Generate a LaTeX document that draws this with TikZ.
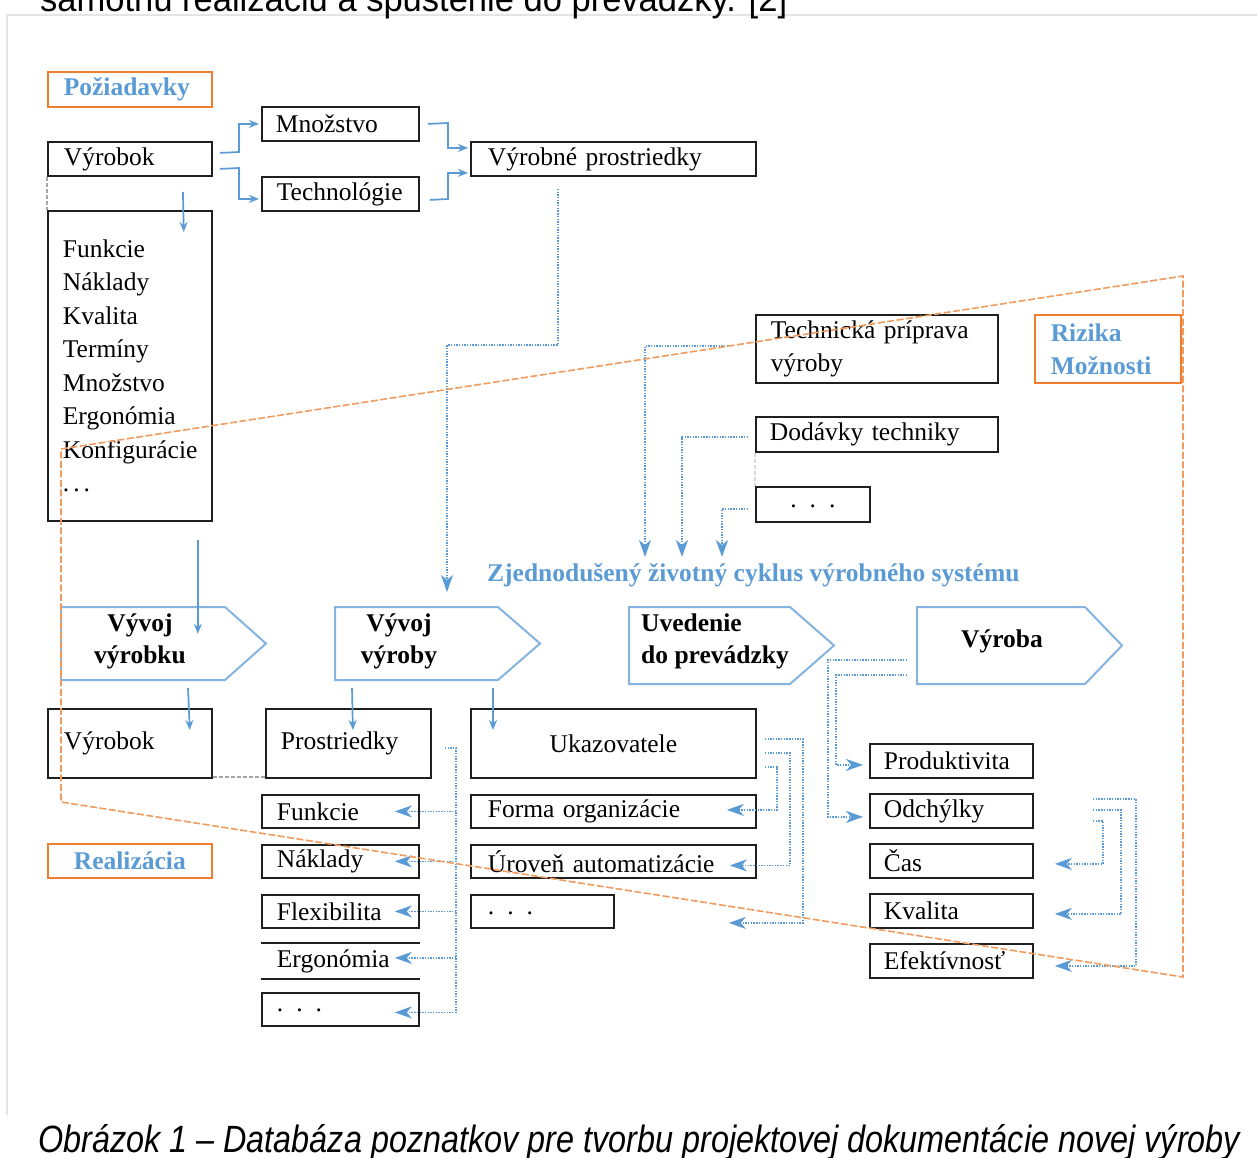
\documentclass[tikz,border=0pt]{standalone}
\usepackage{fontspec}
\usepackage{graphicx}
\setmainfont{Liberation Serif}
\newfontfamily\arialf{Liberation Sans}
\usetikzlibrary{arrows.meta}
\definecolor{ablue}{HTML}{5B9BD5}
\definecolor{aorange}{HTML}{ED7D31}
\definecolor{lorange}{HTML}{F29B5E}
\definecolor{pblue}{HTML}{85B4E0}
\definecolor{fgray}{HTML}{E4E4E4}
\newcommand{\tdots}{.\hspace{13pt}.\hspace{13pt}.}
\begin{document}
\begin{tikzpicture}[x=1pt,y=1pt,
  bx/.style={draw=black!88, line width=1.8pt, rectangle, anchor=north west, inner ysep=0pt, align=left, font=\fontsize{25.5}{33.5}\selectfont},
  obx/.style={bx, draw=aorange, line width=1.6pt, text=ablue, font=\fontsize{25.5}{33}\selectfont\bfseries},
  arr/.style={draw=ablue, line width=1.7pt, -{Stealth[length=10pt,width=8pt]}},
  dotl/.style={draw=ablue, line width=1.8pt, dash pattern=on 1.4pt off 1.3pt},
  dotarr/.style={dotl, -{Stealth[length=17pt,width=12pt,inset=5pt]}},
  pent/.style={draw=pblue, line width=2pt, line join=miter},
  ptxt/.style={font=\fontsize{25.5}{32}\selectfont\bfseries, align=center, inner sep=0pt},
  gdash/.style={draw=gray!70, line width=1.5pt, dash pattern=on 4pt off 2pt},
  odash/.style={draw=lorange, line width=1.6pt, dash pattern=on 7pt off 2.5pt}]
\useasboundingbox (0,0) rectangle (1257,-1157);
\clip (0,0) rectangle (1257,-1157);
\fill[white] (0,0) rectangle (1257,-1157);
\draw[fgray, line width=1.2pt] (7,-1115) -- (7,-15) -- (1260,-15);

% page text (cut by the picture edges, as in the reference)
\node[anchor=base west, inner sep=0pt, font=\arialf\fontsize{36}{40}\selectfont] (toptxt) at (40,-11) {\resizebox{747pt}{\height}{samotnú realizáciu a spustenie do prevádzky. [2]}};
\node[anchor=base west, inner sep=0pt, font=\arialf\itshape\fontsize{38}{40}\selectfont] (cap) at (38,-1152) {\resizebox{1202pt}{\height}{Obrázok 1 – Databáza poznatkov pre tvorbu projektovej dokumentácie novej výroby}};

% top part
\node[obx, minimum width=164pt, minimum height=35pt, text width=132pt, inner xsep=16pt] (poz) at (47,-71) {Požiadavky};
\node[bx, minimum width=164pt, minimum height=34pt, text width=132pt, inner xsep=16pt] (vyr1) at (47,-141) {Výrobok};
\node[bx, minimum width=157pt, minimum height=34pt, text width=129pt, inner xsep=14pt] (mnoz) at (261,-106) {Množstvo};
\node[bx, minimum width=157pt, minimum height=34pt, text width=127pt, inner xsep=15pt] (tech) at (261,-176) {Technológie};
\node[bx, minimum width=285pt, minimum height=34pt, text width=251pt, inner xsep=17pt] (vp) at (470,-141) {Výrobné prostriedky};
\node[bx, minimum width=164pt, minimum height=310pt, text width=134pt, inner xsep=15pt] (list) at (47,-210) {Funkcie\\Náklady\\Kvalita\\Termíny\\Množstvo\\Ergonómia\\Konfigurácie\\.\hspace{4pt}.\hspace{4pt}.};

\node[bx, minimum width=242pt, minimum height=68pt, text width=212pt, inner xsep=15pt, font=\fontsize{25.5}{33}\selectfont] (tpv) at (755,-314) {Technická príprava\\výroby};
\node[obx, minimum width=146pt, minimum height=68pt, text width=114pt, inner xsep=16pt] (riz) at (1034,-314) {Rizika\\Možnosti};
\node[bx, minimum width=242pt, minimum height=35pt, text width=214pt, inner xsep=14pt] (dod) at (755,-416) {Dodávky techniky};
\node[bx, minimum width=114pt, minimum height=35pt, text width=114pt, inner xsep=0pt, align=center] (dt1) at (755,-486) {\raisebox{-6pt}{\tdots}};

\node[anchor=west, inner sep=0pt, text=ablue, font=\fontsize{25.5}{32}\selectfont\bfseries] (cyc) at (487,-575) {Zjednodušený životný cyklus výrobného systému};

% life-cycle pentagons
\draw[pent] (61,-607) -- (225,-607) -- (266,-643.5) -- (225,-680) -- (61,-680) -- cycle;
\draw[pent] (335,-607) -- (498,-607) -- (540,-643.5) -- (498,-680) -- (335,-680) -- cycle;
\draw[pent] (629,-607) -- (790,-607) -- (834,-645.5) -- (790,-684) -- (629,-684) -- cycle;
\draw[pent] (917,-607) -- (1085,-607) -- (1122,-645.5) -- (1085,-684) -- (917,-684) -- cycle;
\node[ptxt] (p1) at (140,-641) {Vývoj\\výrobku};
\node[ptxt] (p2) at (399,-641) {Vývoj\\výroby};
\node[ptxt, align=left, anchor=west] (p3) at (641,-641) {Uvedenie\\do prevádzky};
\node[ptxt] (p4) at (1002,-641) {Výroba};

% bottom part
\node[bx, minimum width=164pt, minimum height=69pt, text width=132pt, inner xsep=16pt] (vyr2) at (47,-708) {Výrobok};
\node[bx, minimum width=165pt, minimum height=69pt, text width=135pt, inner xsep=15pt] (pros) at (265,-708) {Prostriedky};
\node[bx, minimum width=285pt, minimum height=69pt, text width=285pt, inner xsep=0pt, align=center] (uka) at (470,-708) {Ukazovatele};
\node[obx, minimum width=164pt, minimum height=34pt, text width=164pt, inner xsep=0pt, align=center] (real) at (47,-843) {Realizácia};

\node[bx, minimum width=157pt, minimum height=33pt, text width=127pt, inner xsep=15pt] (f) at (261,-794) {Funkcie};
\node[bx, minimum width=157pt, minimum height=33pt, text width=127pt, inner xsep=15pt] (n) at (261,-844) {Náklady};
\node[bx, minimum width=157pt, minimum height=33pt, text width=127pt, inner xsep=15pt] (fl) at (261,-894) {Flexibilita};
\node[bx, draw=none, minimum width=157pt, minimum height=34pt, text width=127pt, inner xsep=15pt] (erg) at (261,-943) {Ergonómia};
\draw[draw=black!88, line width=1.8pt] (erg.north west) -- (erg.north east) (erg.south west) -- (erg.south east);
\node[bx, minimum width=157pt, minimum height=33pt, text width=127pt, inner xsep=15pt] (d2) at (261,-992) {\raisebox{-5pt}{\tdots}};

\node[bx, minimum width=285pt, minimum height=33pt, text width=251pt, inner xsep=17pt] (forma) at (470,-794) {Forma organizácie};
\node[bx, minimum width=285pt, minimum height=33pt, text width=251pt, inner xsep=17pt] (urov) at (470,-844) {Úroveň automatizácie};
\node[bx, minimum width=143pt, minimum height=33pt, text width=109pt, inner xsep=17pt] (d3) at (470,-894) {\raisebox{-7pt}{\tdots}};

\node[bx, minimum width=163pt, minimum height=34pt, text width=135pt, inner xsep=14pt] (prod) at (869,-743) {Produktivita};
\node[bx, minimum width=163pt, minimum height=34pt, text width=135pt, inner xsep=14pt] (odch) at (869,-793) {Odchýlky};
\node[bx, minimum width=163pt, minimum height=34pt, text width=135pt, inner xsep=14pt] (cas) at (869,-843) {Čas};
\node[bx, minimum width=163pt, minimum height=34pt, text width=135pt, inner xsep=14pt] (kval) at (869,-893) {Kvalita};
\node[bx, minimum width=163pt, minimum height=34pt, text width=135pt, inner xsep=14pt] (efek) at (869,-943) {Efektívnosť};

% gray dashed joins
\draw[gdash] (vyr1.south west) -- (list.north west);
\draw[gdash] ([yshift=2pt]vyr2.south east) -- ([yshift=2pt]pros.south west);
\draw[gdash, draw=gray!30] (dod.south west) -- (dt1.north west);

% solid blue arrows
\draw[arr] ([xshift=7pt,yshift=6pt]vyr1.east) -- (239,-152) |- ([xshift=-2pt]mnoz.west);
\draw[arr] ([xshift=7pt,yshift=-10pt]vyr1.east) -- (239,-168) |- ([xshift=-2pt,yshift=-5pt]tech.west);
\draw[arr] ([xshift=8pt]mnoz.east) -- (448,-123) |- ([xshift=-2pt,yshift=11pt]vp.west);
\draw[arr] ([xshift=10pt,yshift=-6pt]tech.east) -- (448,-199) |- ([xshift=-2pt,yshift=-14pt]vp.west);
\draw[arr] ([xshift=53pt,yshift=-15pt]vyr1.south) -- ([xshift=-29pt,yshift=-22pt]list.north east);
\draw[arr] ([xshift=-15pt,yshift=-18pt]list.south east) -- ++(0,-94pt);
\draw[arr] (188,-688) -- ([xshift=-23pt,yshift=-22pt]vyr2.north east);
\draw[arr] (352,-688) -- ([xshift=4.5pt,yshift=-22pt]pros.north);
\draw[arr] (493,-688) -- ([xshift=23pt,yshift=-22pt]uka.north west);

% dotted blue arrows, upper part
\draw[dotarr] ([xshift=-55.5pt,yshift=-12pt]vp.south) |- (447,-345) -- (447,-592);
\draw[dotarr] ([xshift=-27pt,yshift=3pt]tpv.west) -| ([xshift=158pt,yshift=18pt]cyc.west);
\draw[dotarr] ([xshift=-7pt,yshift=-2.5pt]dod.west) -| ([xshift=195pt,yshift=18pt]cyc.west);
\draw[dotarr] ([xshift=-7pt,yshift=-4.5pt]dt1.west) -| ([xshift=235pt,yshift=18pt]cyc.west);

% dotted blue arrows, Prostriedky
\coordinate (pv) at (456,-747);
\draw[dotl] ([xshift=13pt,yshift=-4.5pt]pros.east) -| ([yshift=-3pt]d2.east -| pv);
\draw[dotarr] (f.east -| pv) -- ([xshift=-25pt]f.east);
\draw[dotarr] (n.east -| pv) -- ([xshift=-25pt]n.east);
\draw[dotarr] (fl.east -| pv) -- ([xshift=-25pt]fl.east);
\draw[dotarr] ([yshift=3pt]erg.east -| pv) -- ([xshift=-25pt,yshift=3pt]erg.east);
\draw[dotarr] ([yshift=-3pt]d2.east -| pv) -- ([xshift=-25pt,yshift=-3pt]d2.east);

% dotted blue arrows, Ukazovatele
\draw[dotarr] ([xshift=8pt,yshift=4.5pt]uka.east) -- ++(38pt,0) |- ([xshift=114pt,yshift=-11.5pt]d3.east);
\draw[dotarr] ([xshift=8pt,yshift=-9.5pt]uka.east) -- ++(25pt,0) |- ([xshift=-27pt,yshift=-4pt]urov.east);
\draw[dotarr] ([xshift=8pt,yshift=-23.5pt]uka.east) -- ++(12pt,0) |- ([xshift=-30pt,yshift=1.5pt]forma.east);

% dotted blue arrows, Vyroba
\draw[dotarr] ([shift={(-95pt,-19pt)}]p4.center) -- ++(-79pt,0) |- ([xshift=-6pt,yshift=-6pt]odch.west);
\draw[dotarr] ([shift={(-95pt,-34pt)}]p4.center) -- ++(-71pt,0) |- ([xshift=-6pt,yshift=-4pt]prod.west);

% dotted blue arrows, right side
\coordinate (r1) at (1093,-799);
\coordinate (r2) at (1093,-810);
\coordinate (r3) at (1093,-821);
\draw[dotarr] (r1) -- ++(43pt,0) |- ([xshift=21pt,yshift=-5pt]efek.east);
\draw[dotarr] (r2) -- ++(28pt,0) |- ([xshift=21pt,yshift=-3pt]kval.east);
\draw[dotarr] (r3) -- ++(10pt,0) |- ([xshift=21pt,yshift=-3pt]cas.east);

% orange dashed region
\draw[odash] (61,-449) -- (1183,-276) -- (1183,-977) -- (61,-802) -- cycle;
\end{tikzpicture}
\end{document}
